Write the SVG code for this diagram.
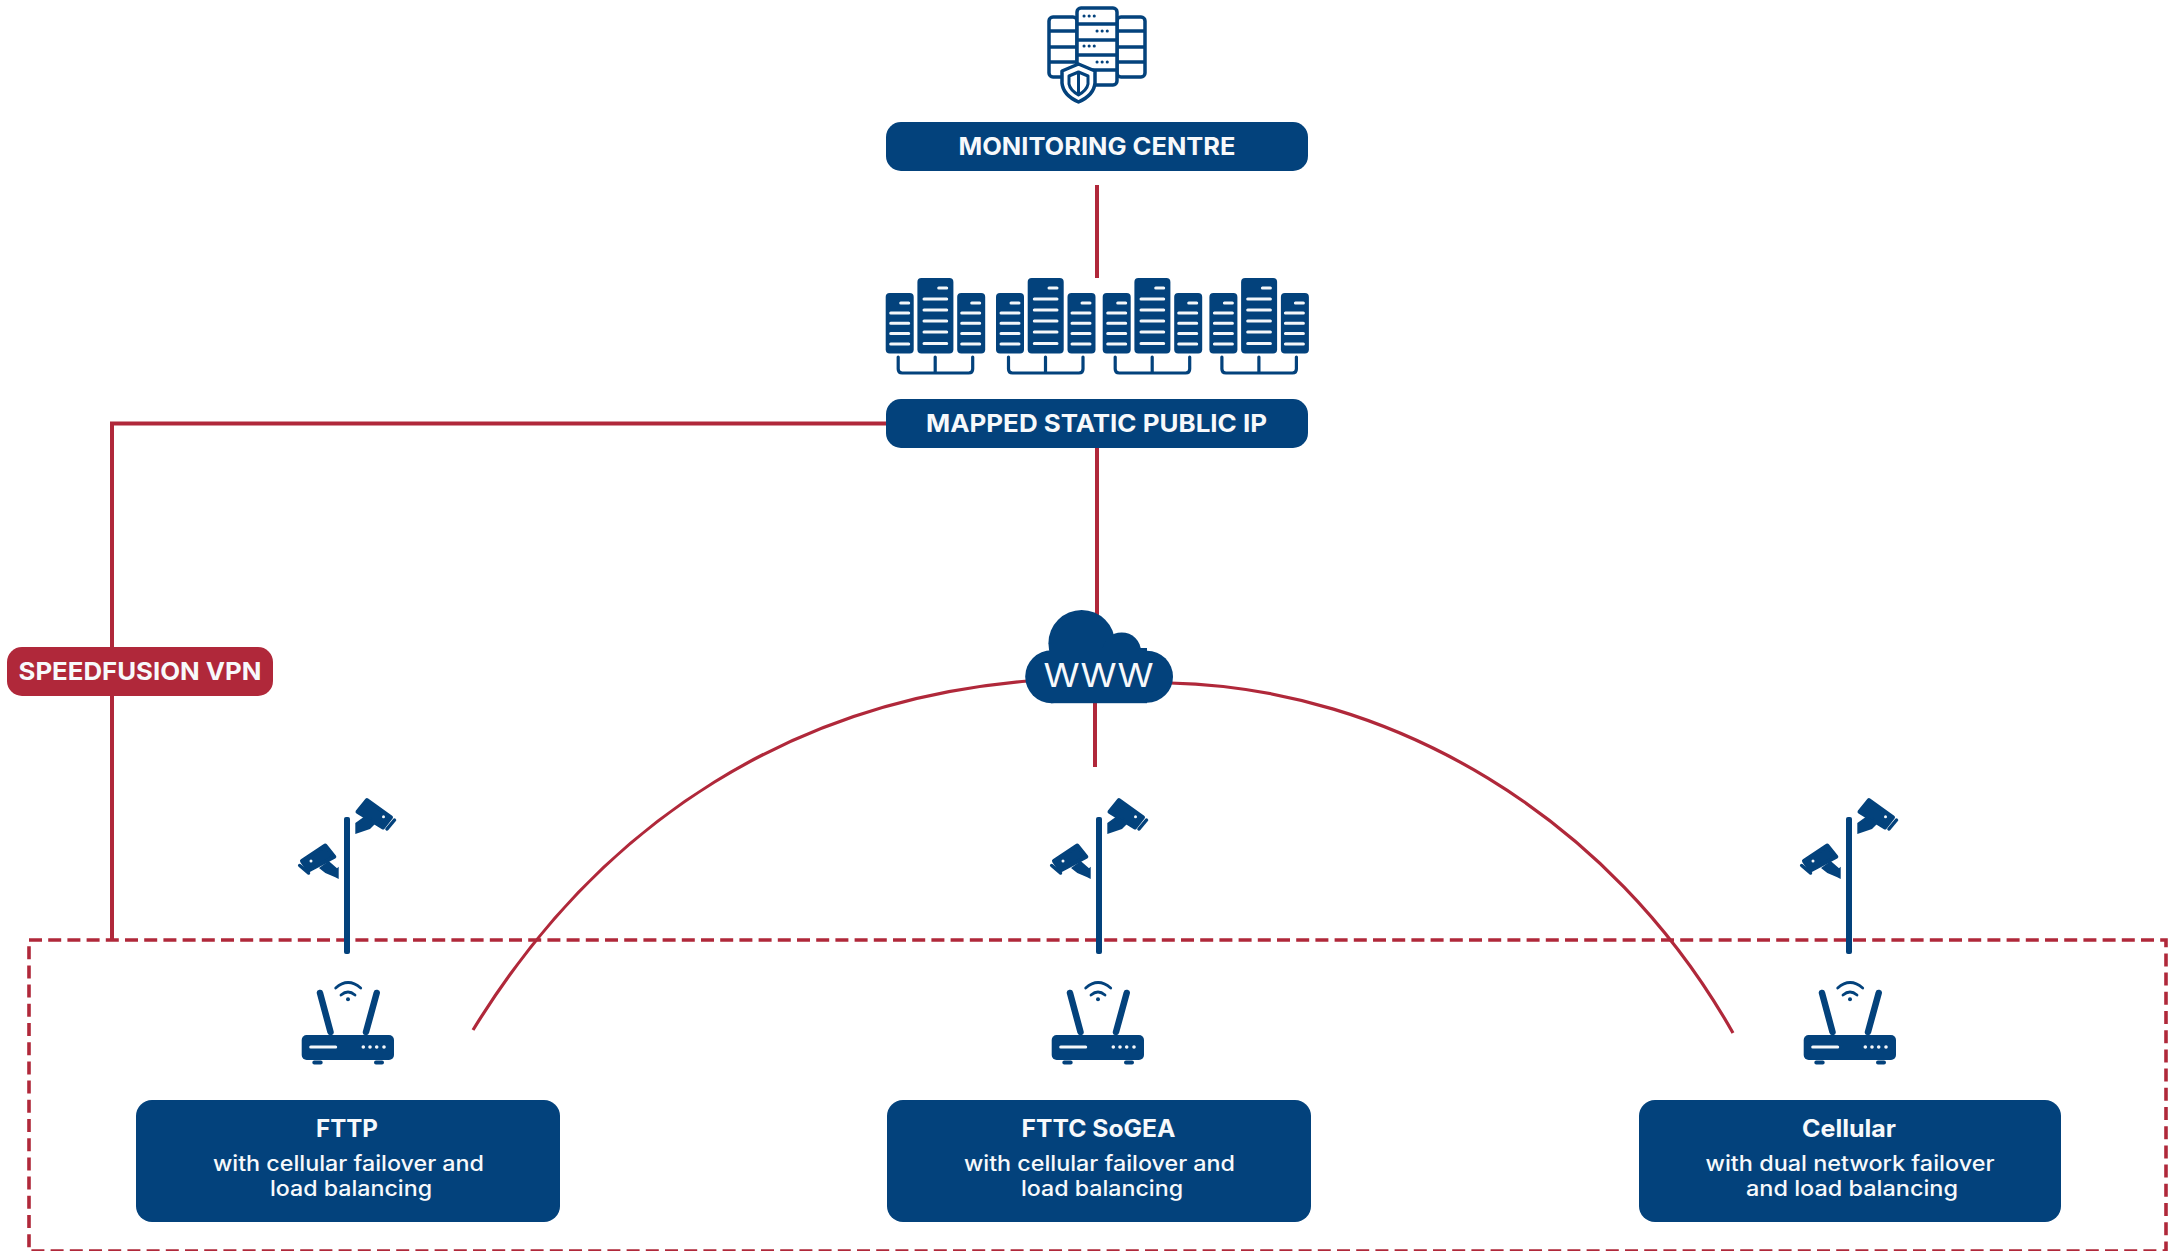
<svg xmlns="http://www.w3.org/2000/svg" xmlns:xlink="http://www.w3.org/1999/xlink" width="2170" height="1251" viewBox="0 0 2170 1251">
<style>
.navy{fill:#03427c}
.red{fill:#b0283a}
.wire{fill:none;stroke:#b0283a;stroke-width:4}
.arc{fill:none;stroke:#b0283a;stroke-width:3.2}
.dash{fill:none;stroke:#b0283a;stroke-width:3.6;stroke-dasharray:13 6.200}
.wl{stroke:#f4f7fa;stroke-width:3;stroke-linecap:round;fill:none}
.nl{stroke:#03427c;fill:none;stroke-linecap:round}
text{font-family:"Inter","Liberation Sans",sans-serif;fill:#f7f9fb;text-anchor:middle}
.h{font-size:24.500px;font-weight:700}
.t{font-size:24px;font-weight:700}
.s{font-size:21px;font-weight:500}
</style>
<defs>
<g id="rack">
<rect x="0" y="15" width="28" height="60.500" rx="4" class="navy"/>
<path class="wl" d="M15 25H23M5 35H23M5 45.300H23M5 55.600H23M5 66H23"/>
<rect x="31.700" y="0" width="36" height="75.500" rx="4" class="navy"/>
<path class="wl" d="M53 10H61M38.300 21H61M38.300 32H61M38.300 43H61M38.300 54H61M38.300 65.500H61"/>
<rect x="71.500" y="15" width="28" height="60.500" rx="4" class="navy"/>
<path class="wl" d="M86 25H94M76 35H94M76 45.300H94M76 55.600H94M76 66H94"/>
<path class="nl" stroke-width="3.200" d="M12.500 79V91Q12.500 95 16.500 95H83Q87 95 87 91V79M49.500 79V95"/>
</g>
<g id="camera">
<path class="navy" d="M20 20 44 37.300 36 47.500 10.500 31.700Z" stroke="#03427c" stroke-width="4" stroke-linejoin="round"/>
<path class="nl" stroke-width="3.500" d="M47.500 40 40 49"/>
<path class="navy" d="M16.700 37 8.300 43V54L23 49 30 42Z"/>
<circle cx="36.500" cy="36.700" r="1.500" fill="#f4f7fa"/>
<path class="navy" d="M-45 81-21.700 65.500-12.700 76.700-38.500 90.500Z" stroke="#03427c" stroke-width="4" stroke-linejoin="round"/>
<path class="nl" stroke-width="3.500" d="M-47.300 85.500-38.500 93"/>
<path class="navy" d="M-28 88-18.300 81-10 88.300-8.300 86.700V99L-11.700 97.300-21.700 93Z"/>
<circle cx="-36" cy="81" r="1.500" fill="#f4f7fa"/>
<rect x="-3" y="37" width="6" height="137" rx="2" class="navy"/>
</g>
<g id="router">
<rect x="-46.300" y="75" width="92.300" height="25" rx="5" class="navy"/>
<path class="wl" d="M-37.300 87H-12.300"/>
<circle cx="15.300" cy="87" r="1.800" fill="#f4f7fa"/><circle cx="22" cy="87" r="1.800" fill="#f4f7fa"/><circle cx="28.700" cy="87" r="1.800" fill="#f4f7fa"/><circle cx="36" cy="87" r="1.800" fill="#f4f7fa"/>
<path class="nl" stroke-width="4" d="M-33.700 102.500H-27.300M28 102.500H34"/>
<path class="nl" stroke-width="6.500" d="M-28 33-17.500 72M28.700 33 18 72"/>
<path class="nl" stroke-width="2.800" d="M-12.300 28Q0 17 12.700 28M-7 35Q0 29 7 35"/>
<circle cx="0" cy="39.300" r="2" class="navy"/>
</g>
</defs>

<g id="connectors">
<path class="wire" d="M1097 185V278"/>
<path class="wire" d="M886 423.500H112V940"/>
<path class="wire" d="M1097 448V615"/>
<path class="wire" d="M1095 700V767"/>
<path class="arc" d="M473 1030C605 815 800 700 1028 681"/>
<path class="arc" d="M1733 1033C1610 815 1390 688 1170 683"/>
<rect id="failover-zone" class="dash" x="29" y="940" width="2137" height="311"/>
</g>

<g id="monitoring-icon">
<g fill="#fff" stroke="#03427c" stroke-width="3.500">
<rect x="1049" y="17" width="28" height="60" rx="4"/>
<rect x="1117" y="17" width="28" height="60" rx="4"/>
<path d="M1049 31H1077M1049 47H1077M1049 62H1077M1117 31H1145M1117 47H1145M1117 62H1145"/>
<rect x="1077" y="8" width="40" height="77" rx="4"/>
<path d="M1077 24H1117M1077 40H1117M1077 55H1117M1077 70H1117"/>
</g>
<path stroke="#03427c" stroke-width="3" stroke-linecap="round" stroke-dasharray="0.100 5" d="M1084 16H1097M1097 31H1111M1084 46H1097M1097 62H1111"/>
<path d="M1078.500 64 1095 71V83Q1094 95 1078.500 102 1063 95 1062 83V71Z" fill="#fff" stroke="#03427c" stroke-width="3.500" stroke-linejoin="round"/>
<path d="M1078.500 72 1088 76V84Q1087 90 1078.500 95 1070 90 1069 84V76Z" fill="none" stroke="#03427c" stroke-width="3" stroke-linejoin="round"/>
<path d="M1078.500 72V95" stroke="#03427c" stroke-width="3"/>
</g>

<g id="monitoring-centre">
<rect x="886" y="122" width="422" height="49" rx="15" class="navy"/>
<text class="h" x="1097" y="155" textLength="277" lengthAdjust="spacingAndGlyphs">MONITORING CENTRE</text>
</g>

<g id="server-racks">
<use xlink:href="#rack" href="#rack" x="885.700" y="278"/>
<use xlink:href="#rack" href="#rack" x="996" y="278"/>
<use xlink:href="#rack" href="#rack" x="1102.700" y="278"/>
<use xlink:href="#rack" href="#rack" x="1209.400" y="278"/>
</g>

<g id="mapped-static-public-ip">
<rect x="886" y="399" width="422" height="49" rx="15" class="navy"/>
<text class="h" x="1096.500" y="431.500" textLength="341" lengthAdjust="spacingAndGlyphs">MAPPED STATIC PUBLIC IP</text>
</g>

<g id="speedfusion-vpn">
<rect x="7" y="647" width="266" height="49" rx="15" class="red"/>
<text class="h" x="140" y="680" textLength="243" lengthAdjust="spacingAndGlyphs">SPEEDFUSION VPN</text>
</g>

<g id="www-cloud">
<g class="navy">
<circle cx="1081.700" cy="643.300" r="33.300"/>
<circle cx="1121.700" cy="651.700" r="19.300"/>
<circle cx="1051.700" cy="676.700" r="26.500"/>
<circle cx="1147" cy="676.700" r="26"/>
<rect x="1051" y="648" width="96" height="55.200"/>
</g>
<text x="1098.500" y="687" style="font-size:33px;font-weight:400" textLength="110" lengthAdjust="spacingAndGlyphs">WWW</text>
</g>

<g id="cameras-fttp"><use xlink:href="#camera" href="#camera" x="347" y="780"/></g>
<g id="cameras-fttc"><use xlink:href="#camera" href="#camera" x="1099" y="780"/></g>
<g id="cameras-cellular"><use xlink:href="#camera" href="#camera" x="1849" y="780"/></g>

<g id="router-fttp"><use xlink:href="#router" href="#router" x="348" y="960"/></g>
<g id="router-fttc"><use xlink:href="#router" href="#router" x="1098" y="960"/></g>
<g id="router-cellular"><use xlink:href="#router" href="#router" x="1850" y="960"/></g>

<g id="fttp">
<rect x="136" y="1100" width="424" height="122" rx="16" class="navy"/>
<text class="t" x="347" y="1137" textLength="62" lengthAdjust="spacingAndGlyphs">FTTP</text>
<text class="s" x="348.500" y="1171" textLength="271" lengthAdjust="spacingAndGlyphs">with cellular failover and</text>
<text class="s" x="351" y="1196" textLength="162" lengthAdjust="spacingAndGlyphs">load balancing</text>
</g>
<g id="fttc-sogea">
<rect x="887" y="1100" width="424" height="122" rx="16" class="navy"/>
<text class="t" x="1098.500" y="1137" textLength="154" lengthAdjust="spacingAndGlyphs">FTTC SoGEA</text>
<text class="s" x="1099.500" y="1171" textLength="271" lengthAdjust="spacingAndGlyphs">with cellular failover and</text>
<text class="s" x="1102" y="1196" textLength="162" lengthAdjust="spacingAndGlyphs">load balancing</text>
</g>
<g id="cellular">
<rect x="1639" y="1100" width="422" height="122" rx="16" class="navy"/>
<text class="t" x="1849" y="1137" textLength="94" lengthAdjust="spacingAndGlyphs">Cellular</text>
<text class="s" x="1850" y="1171" textLength="289" lengthAdjust="spacingAndGlyphs">with dual network failover</text>
<text class="s" x="1852" y="1196" textLength="212" lengthAdjust="spacingAndGlyphs">and load balancing</text>
</g>
</svg>
